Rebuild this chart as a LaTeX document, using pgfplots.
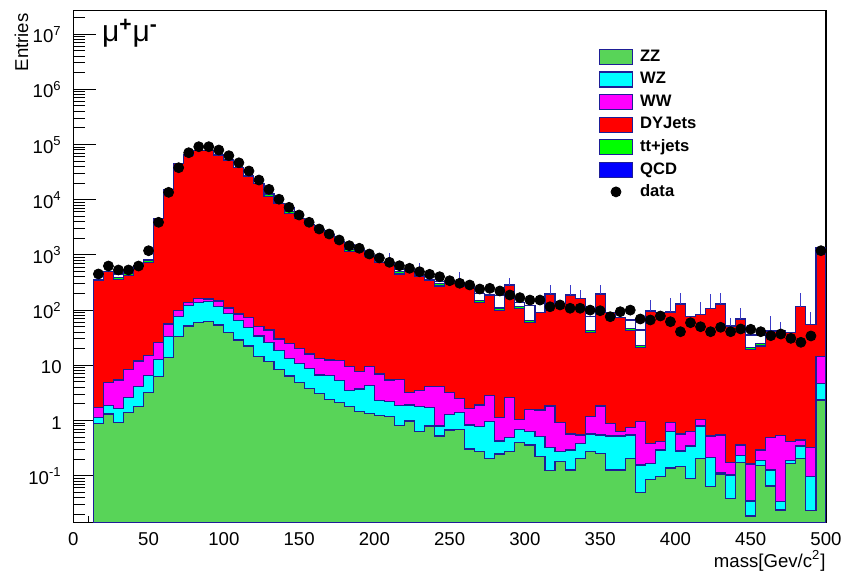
\documentclass[border=0pt]{standalone}
\usepackage{pgfplots}
\usepackage{pgfplotstable}
\pgfplotsset{compat=1.18}
\usepackage{fontspec}
\setmainfont{Liberation Sans}
\definecolor{zzc}{RGB}{88,212,88}
\definecolor{wzc}{RGB}{0,255,255}
\definecolor{wwc}{RGB}{255,0,255}
\definecolor{dyc}{RGB}{255,0,0}
\definecolor{ttc}{RGB}{0,255,0}
\definecolor{qcdc}{RGB}{0,0,255}
\definecolor{edge}{RGB}{30,30,150}
\definecolor{errc}{RGB}{60,60,200}
\pgfplotstableread{
k top tt dy ww wz zz data
2 351 351 351 1.71 1.14 0.89 451
3 496 496 496 4.92 1.85 1.31 629
4 451 393 361 5.42 1.66 0.93 533
5 490 458 420 8.47 2.59 1.41 533
6 629 629 629 11.97 4.1 1.78 629
7 808 800 734 14.9 6.48 3.24 1191
8 4600 4600 4600 26.1 12.8 6.21 3897
9 15400 15400 15400 56 33 14 13600
10 45600 45600 45600 99 75.9 33 38000
11 64500 64500 64500 138 119 51.5 71000
12 77200 77200 77200 164 136 60.1 91200
13 77200 77200 77200 159 142 61.6 91200
14 64500 64500 64500 146 115 53.7 79400
15 52400 52400 52400 109 87.5 39 62700
16 37800 37800 37800 85 64.3 28.7 46600
17 26900 26900 26900 72.8 48.8 22.4 33100
18 19800 19800 19800 50 34 14.7 22700
19 13060 12350 11330 43.6 25.7 11.6 15400
20 8600 8600 8600 29.9 18.2 8.47 10200
21 7080 6180 5670 25 13.4 6.4 7280
22 4600 4600 4600 20.3 10.9 4.92 5280
23 3580 3580 3580 16 8.83 3.83 3900
24 2825 2825 2825 13.4 6.67 3.11 2945
25 2290 2290 2290 12.5 6.48 2.42 2390
26 1734 1734 1734 12.1 5.26 2.14 1862
27 1511 1246 1143 9.4 3.47 1.78 1468
28 1227 1227 1227 7.66 3.72 1.44 1318
29 955 955 955 9.4 4.27 1.35 1038
30 734 734 734 6.96 2.28 1.22 879
31 722 722 722 5.42 2.19 1.17 734
32 548 492 451 5.58 1.85 0.805 637
33 548 548 548 3.19 1.91 0.98 572
34 415 415 415 3.47 1.78 0.63 496
35 351 351 351 4.1 1.73 0.795 445
36 327 298 273 4.1 0.795 0.524 403
37 327 327 327 3.24 1.29 0.673 341
38 314 314 314 2.52 1.41 0.70 306
39 265 265 265 1.66 0.83 0.305 285
40 202 150 138 1.91 0.77 0.272 241
41 188 188 188 2.81 0.95 0.207 248
42 182 109 100 1.14 0.425 0.247 222
43 285 285 285 2.59 0.496 0.272 188
44 136 118 108 1.05 0.70 0.403 168
45 119 64 59 1.6 0.63 0.36 152
46 89.7 89.7 89.7 1.55 0.509 0.221 152
47 196 196 196 1.83 0.327 0.123 115
48 133 133 133 0.91 0.272 0.179 124
49 188 188 188 0.57 0.292 0.127 108
50 164 164 164 0.546 0.386 0.207 108
51 75.9 43.2 39.6 1.17 0.57 0.272 100
52 196 196 196 1.83 0.546 0.255 97.5
53 89.7 89.7 89.7 0.89 0.524 0.127 75.9
54 72.8 72.8 72.8 0.63 0.524 0.127 93.5
55 66.2 46.2 42.4 0.75 0.546 0.207 100
56 43.6 23.1 21.2 0.95 0.156 0.05 69
57 96.3 96.3 96.3 0.386 0.168 0.086 66.2
58 89.7 89.7 89.7 0.413 0.292 0.096 78.2
59 92.4 92.4 92.4 0.91 0.63 0.138 61.6
60 129 129 129 0.57 0.28 0.146 40.6
61 75.9 75.9 75.9 0.63 0.345 0.0897 59.1
62 84 84 84 1.05 0.795 0.207 50
63 108 108 108 0.524 0.212 0.063 40.6
64 129 129 129 0.546 0.112 0.106 48.8
65 51.5 51.5 51.5 0.175 0.103 0.039 40.6
66 69 69 69 0.36 0.23 0.172 45.5
67 35.4 21.3 19.5 0.163 0.0348 0.0186 44.9
68 35.4 24.4 22.4 0.292 0.192 0.152 40.6
69 41.8 41.8 41.8 0.496 0.127 0.065 34.4
70 41.8 41.8 41.8 0.531 0.0338 0.0239 36.9
71 39 39 39 0.413 0.192 0.168 30.8
72 115 115 115 0.443 0.345 0.207 26.1
73 55.3 55.3 55.3 0.327 0.096 0.0232 34
74 1374 1374 1374 14.3 4.72 2.35 1191
75 1374 1374 1374 14.3 4.72 2.35 nan
}\hist
\pgfplotstableread{
k top err
31 722 347
34 415 307
38 314 182
43 285 92
47 196 89
49 188 97
50 164 66
52 196 89
57 96.3 56
59 92.4 72
60 129 78
62 84 58
63 108 88
64 129 78
65 51.5 20
66 69 41
69 41.8 36
70 41.8 20
72 115 87
73 55.3 38
}\errs
\begin{document}
\begin{tikzpicture}
\useasboundingbox (-36.65pt,-25.15pt) rectangle (391.35pt,261.35pt);
\begin{axis}[
  at={(0,0)}, anchor=south west,
  scale only axis, width=376.35pt, height=256pt,
  xmin=0, xmax=500, ymode=log, ymin=0.01408, ymax=2.654e7,
  log origin y=infty,
  axis line style={line width=0.6pt},
  every tick/.style={black, line width=0.5pt},
  xtick={0,50,...,500},
  xticklabels={0,50,100,150,200,250,300,350,400,450,500},
  minor x tick num=4,
  ytick={1e-1,1,1e1,1e2,1e3,1e4,1e5,1e6,1e7},
  yticklabels={10\textsuperscript{-1},1,10,10\textsuperscript{2},10\textsuperscript{3},10\textsuperscript{4},10\textsuperscript{5},10\textsuperscript{6},10\textsuperscript{7}},
  minor ytick={2e-2,3e-2,4e-2,5e-2,6e-2,7e-2,8e-2,9e-2,2e-1,3e-1,4e-1,5e-1,6e-1,7e-1,8e-1,9e-1,2,3,4,5,6,7,8,9,2e1,3e1,4e1,5e1,6e1,7e1,8e1,9e1,2e2,3e2,4e2,5e2,6e2,7e2,8e2,9e2,2e3,3e3,4e3,5e3,6e3,7e3,8e3,9e3,2e4,3e4,4e4,5e4,6e4,7e4,8e4,9e4,2e5,3e5,4e5,5e5,6e5,7e5,8e5,9e5,2e6,3e6,4e6,5e6,6e6,7e6,8e6,9e6,2e7},
  xtick pos=bottom, ytick pos=left, tick align=inside,
  major tick length=11.5pt, minor tick length=6pt,
  xtick style={/pgfplots/major tick length=7.5pt,/pgfplots/minor tick length=3.5pt},
  tick label style={font=\fontsize{9.3}{11}\selectfont, inner sep=0pt},
  x tick label style={anchor=base, yshift=-11.15pt},
  y tick label style={anchor=base east, xshift=-5.65pt, yshift=-4.3pt},
  xlabel={mass[Gev/c\textsuperscript{2}]},
  xlabel style={at={(axis description cs:1,-0.0871)}, anchor=base east, inner sep=0pt, font=\fontsize{9.3}{11}\selectfont},
  ylabel={Entries},
  ylabel style={at={(axis description cs:-0.0688,0.9953)}, anchor=east, inner sep=0pt, font=\fontsize{9.3}{11}\selectfont},
  legend style={draw=none, fill=none, at={(0.6975,0.9262)}, anchor=north west,
    font=\bfseries\fontsize{8.3}{9}\selectfont, inner sep=0pt, row sep=3.2pt,
    nodes={inner sep=0pt, text height=5.8pt, text depth=1.6pt},
    /tikz/every odd column/.append style={column sep=3.4pt}},
  legend cell align=left,
]
\addlegendimage{legend image code/.code={\draw[fill=zzc,draw=edge,line width=0.6pt] (0pt,-3.75pt) rectangle (16.7pt,3.75pt);}}
\addlegendentry{ZZ}
\addlegendimage{legend image code/.code={\draw[fill=wzc,draw=edge,line width=0.6pt] (0pt,-3.75pt) rectangle (16.7pt,3.75pt);}}
\addlegendentry{WZ}
\addlegendimage{legend image code/.code={\draw[fill=wwc,draw=edge,line width=0.6pt] (0pt,-3.75pt) rectangle (16.7pt,3.75pt);}}
\addlegendentry{WW}
\addlegendimage{legend image code/.code={\draw[fill=dyc,draw=edge,line width=0.6pt] (0pt,-3.75pt) rectangle (16.7pt,3.75pt);}}
\addlegendentry{DYJets}
\addlegendimage{legend image code/.code={\draw[fill=ttc,draw=edge,line width=0.6pt] (0pt,-3.75pt) rectangle (16.7pt,3.75pt);}}
\addlegendentry{tt+jets}
\addlegendimage{legend image code/.code={\draw[fill=qcdc,draw=edge,line width=0.6pt] (0pt,-3.75pt) rectangle (16.7pt,3.75pt);}}
\addlegendentry{QCD}
\addlegendimage{legend image code/.code={\fill[black] (8.35pt,0pt) circle (2.5pt);}}
\addlegendentry{data}

\addplot[const plot, fill=white, draw=edge, line width=0.55pt, forget plot] table[x expr=\thisrow{k}*20/3, y=top]{\hist} \closedcycle;
\addplot[const plot, fill=ttc, draw=edge, line width=0.55pt, forget plot] table[x expr=\thisrow{k}*20/3, y=tt]{\hist} \closedcycle;
\addplot[const plot, fill=dyc, draw=edge, line width=0.55pt, forget plot] table[x expr=\thisrow{k}*20/3, y=dy]{\hist} \closedcycle;
\addplot[const plot, fill=wwc, draw=edge, line width=0.55pt, forget plot] table[x expr=\thisrow{k}*20/3, y=ww]{\hist} \closedcycle;
\addplot[const plot, fill=wzc, draw=edge, line width=0.55pt, forget plot] table[x expr=\thisrow{k}*20/3, y=wz]{\hist} \closedcycle;
\addplot[const plot, fill=zzc, draw=edge, line width=0.55pt, forget plot] table[x expr=\thisrow{k}*20/3, y=zz]{\hist} \closedcycle;
\addplot[draw=none, mark=none, forget plot,
  error bars/.cd, y dir=plus, y explicit, error mark=none,
  error bar style={draw=errc, line width=0.5pt}]
  table[x expr=\thisrow{k}*20/3+10/3, y=top, y error=err]{\errs};
\addplot[only marks, mark=*, mark size=2.5pt, black, forget plot] table[x expr=\thisrow{k}*20/3+10/3, y=data]{\hist};
\node[anchor=base west, inner sep=0pt, font=\fontsize{15}{15}\selectfont] at (rel axis cs:0.0377,0.9395) {μ\textsuperscript{\textbf{+}}μ\textsuperscript{\textbf{-}}};
\end{axis}
\end{tikzpicture}
\end{document}
